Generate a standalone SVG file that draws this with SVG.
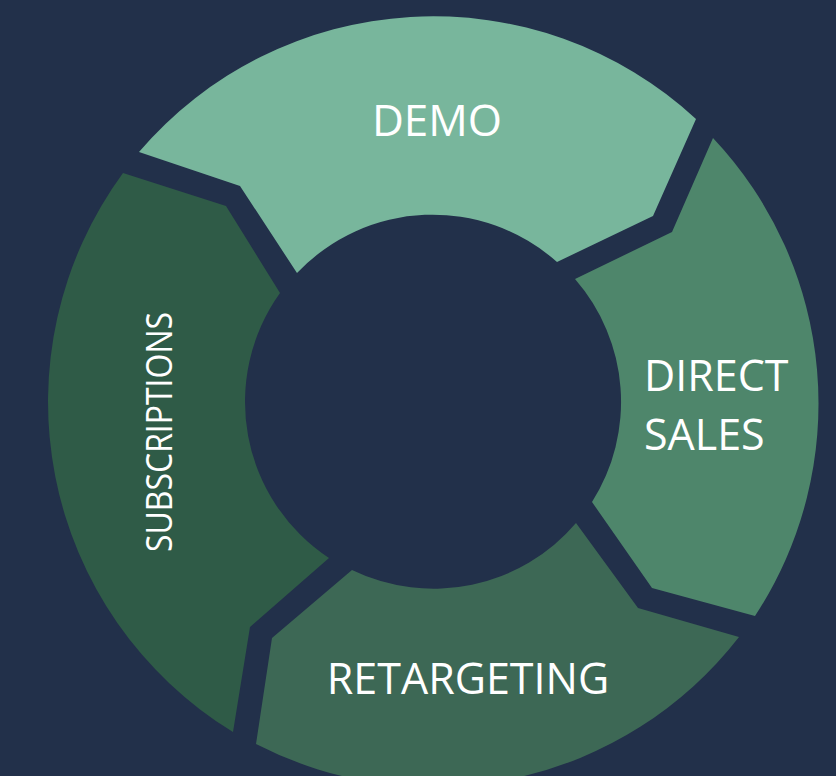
<svg xmlns="http://www.w3.org/2000/svg" width="836" height="776" viewBox="0 0 836 776">
<style>
.lbl{font-family:"Open Sans","Liberation Sans",sans-serif;fill:#ffffff;}
</style>
<rect width="836" height="776" fill="#22304a"/>
<g id="demo">
<path d="M139,152 A387,387 0 0 1 696,119 L653,216 L557,262 A187,187 0 0 0 297,273 L240,186 Z" fill="#78b69c"/>
<text class="lbl" x="437" y="136" font-size="44" text-anchor="middle">DEMO</text>
</g>
<g id="direct-sales">
<path d="M713,138 A387,387 0 0 1 755,616 L652,588 L592,502 A187,187 0 0 0 575,279 L672,232 Z" fill="#4e866b"/>
<text class="lbl" x="644" y="391" font-size="43">DIRECT</text>
<text class="lbl" x="644" y="450" font-size="43">SALES</text>
</g>
<g id="retargeting">
<path d="M739,637 A387,387 0 0 1 256,744 L272,638 L352,570 A187,187 0 0 0 576,523 L638,608 Z" fill="#3d6855"/>
<text class="lbl" x="468" y="694" font-size="43" text-anchor="middle">RETARGETING</text>
</g>
<g id="subscriptions">
<path d="M233,732 A387,387 0 0 1 123,173 L226,206 L280,293 A187,187 0 0 0 329,558 L250,627 Z" fill="#2f5b47"/>
<text class="lbl" transform="translate(172,432) rotate(-90)" x="-120" y="0" font-size="37" textLength="240" lengthAdjust="spacingAndGlyphs">SUBSCRIPTIONS</text>
</g>
<g id="connectors"></g>
</svg>
